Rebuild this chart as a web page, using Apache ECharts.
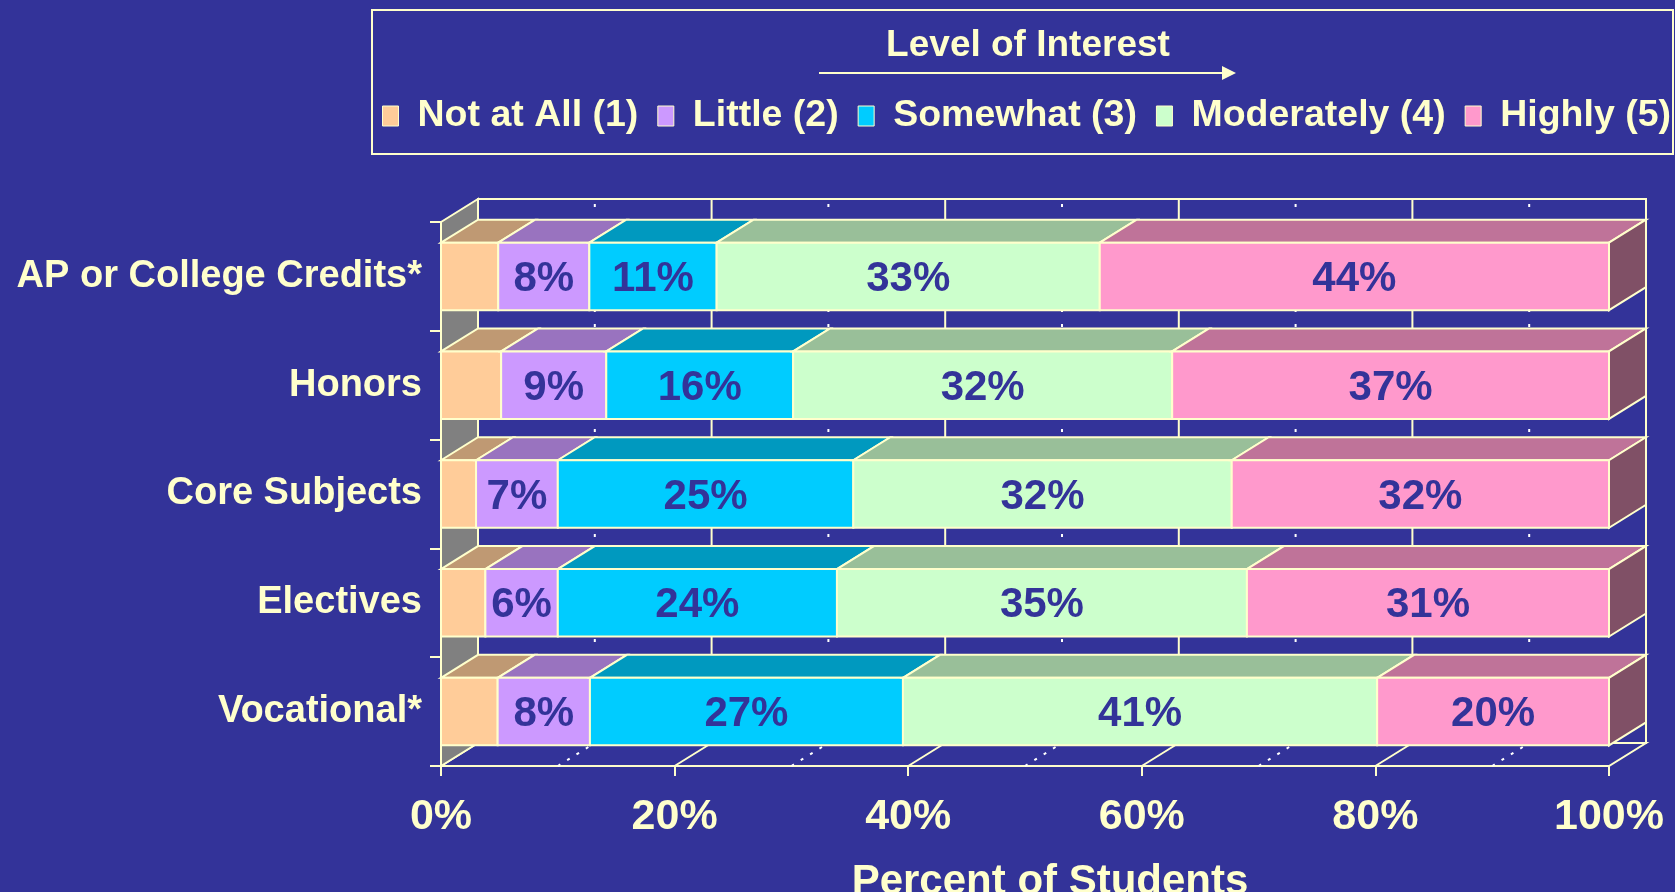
<!DOCTYPE html>
<html>
<head>
<meta charset="utf-8">
<script src="https://cdn.jsdelivr.net/npm/echarts@6/dist/echarts.min.js"></script>
<style>
html, body { margin: 0; padding: 0; background: #333399; }
#chart { width: 1675px; height: 892px; }
</style>
</head>
<body>
<div id="chart"></div>
<script>
// data (percent of students)
var categories = ['AP or College Credits*', 'Honors', 'Core Subjects', 'Electives', 'Vocational*'];
var seriesNames = ['Not at All (1)', 'Little (2)', 'Somewhat (3)', 'Moderately (4)', 'Highly (5)'];
var notAtAll   = [4.9, 5.15, 3.0, 3.8, 4.85];
var little     = [7.8, 9.0, 7.0, 6.2, 7.9];
var somewhat   = [10.9, 16.0, 25.3, 23.9, 26.8];
var moderately = [32.8, 32.45, 32.4, 35.1, 40.6];
var highly     = [43.6, 37.4, 32.3, 31.0, 19.85];
var xTicks = [0, 20, 40, 60, 80, 100];
var minorTicks = [10, 30, 50, 70, 90];

var values = [notAtAll, little, somewhat, moderately, highly];

var FRONT = ['#FFCC99', '#CC99FF', '#00CCFF', '#CCFFCC', '#FF99CC'];
var TOP = ['#BF9973', '#9973BF', '#0099BF', '#99BF99', '#BF7399'];
var SIDE = '#805066';
var CREAM = '#FFFFCC';
var BG = '#333399';
var DX = 37, DY = -23;   // 3d depth offset
var FONT = '"Liberation Sans", Arial, sans-serif';

function stackedData(k) {
  return categories.map(function (c, i) {
    var start = 0;
    for (var j = 0; j < k; j++) start += values[j][i];
    return [start, start + values[k][i], i];
  });
}

function barRenderer(k) {
  return function (params, api) {
    var s = api.value(0), e = api.value(1), cat = api.value(2);
    var p0 = api.coord([s, cat]);
    var p1 = api.coord([e, cat]);
    var h = api.size([0, 1])[1] * 0.62;
    var x0 = p0[0], x1 = p1[0];
    var yT = p0[1] - h / 2, yB = p0[1] + h / 2;
    var children = [
      {
        type: 'polygon',
        shape: { points: [[x0, yT], [x0 + DX, yT + DY], [x1 + DX, yT + DY], [x1, yT]] },
        style: { fill: TOP[k], stroke: CREAM, lineWidth: 2 }
      },
      {
        type: 'rect',
        shape: { x: x0, y: yT, width: x1 - x0, height: h },
        style: { fill: FRONT[k], stroke: CREAM, lineWidth: 2 }
      }
    ];
    if (k === values.length - 1) {
      children.push({
        type: 'polygon',
        shape: { points: [[x1, yT], [x1 + DX, yT + DY], [x1 + DX, yB + DY], [x1, yB]] },
        style: { fill: SIDE, stroke: CREAM, lineWidth: 2 }
      });
    }
    if (k > 0) {
      children.push({
        type: 'text',
        x: (x0 + x1) / 2,
        y: (yT + yB) / 2 + 3,
        style: {
          text: Math.round(e - s) + '%',
          fill: BG,
          font: 'bold 42px ' + FONT,
          align: 'center', verticalAlign: 'middle',
          textAlign: 'center', textVerticalAlign: 'middle'
        }
      });
    }
    return { type: 'group', children: children };
  };
}

// walls, floor and gridlines of the 3d box
function renderFrame(params, api) {
  var cs = params.coordSys;
  var L = cs.x, R = cs.x + cs.width, T = cs.y, B = cs.y + cs.height;
  var children = [
    { type: 'rect', shape: { x: L + DX, y: T + DY, width: cs.width, height: cs.height },
      style: { fill: BG, stroke: CREAM, lineWidth: 2 } },
    { type: 'polygon', shape: { points: [[L, B], [L + DX, B + DY], [R + DX, B + DY], [R, B]] },
      style: { fill: BG, stroke: CREAM, lineWidth: 2 } },
    { type: 'polygon', shape: { points: [[L, T], [L + DX, T + DY], [L + DX, B + DY], [L, B]] },
      style: { fill: '#808080', stroke: CREAM, lineWidth: 2 } }
  ];
  xTicks.slice(1, -1).forEach(function (v) {
    var x = api.coord([v, 0])[0];
    children.push({ type: 'line', shape: { x1: x + DX, y1: T + DY, x2: x + DX, y2: B + DY },
      style: { stroke: CREAM, lineWidth: 2 } });
    children.push({ type: 'line', shape: { x1: x, y1: B, x2: x + DX, y2: B + DY },
      style: { stroke: CREAM, lineWidth: 2 } });
  });
  minorTicks.forEach(function (v) {
    var x = api.coord([v, 0])[0];
    children.push({ type: 'line', shape: { x1: x + DX, y1: T + DY + 5, x2: x + DX, y2: B + DY },
      style: { stroke: '#FFFFFF', lineWidth: 2, lineDash: [3, 12] } });
    children.push({ type: 'line', shape: { x1: x, y1: B, x2: x + DX, y2: B + DY },
      style: { stroke: '#FFFFFF', lineWidth: 2, lineDash: [3, 8] } });
  });
  return { type: 'group', children: children };
}

var series = [{
  type: 'custom',
  name: 'frame',
  silent: true,
  z: 1,
  renderItem: renderFrame,
  encode: { x: 0, y: 1 },
  data: [[0, 0]]
}];
seriesNames.forEach(function (name, k) {
  series.push({
    type: 'custom',
    name: name,
    z: 2,
    itemStyle: { color: FRONT[k] },
    renderItem: barRenderer(k),
    encode: { x: [0, 1], y: 2 },
    data: stackedData(k)
  });
});

var chart = echarts.init(document.getElementById('chart'));
chart.setOption({
  backgroundColor: BG,
  animation: false,
  grid: { left: 441, right: 66, top: 222, bottom: 126, containLabel: false, outerBoundsMode: 'none' },
  legend: {
    data: seriesNames,
    left: 377,
    top: 92,
    width: 1320,
    icon: 'rect',
    itemWidth: 16,
    itemHeight: 20,
    itemGap: 19,
    selectedMode: false,
    itemStyle: { borderColor: CREAM, borderWidth: 1 },
    formatter: function (n) { return '{g|}' + n; },
    textStyle: {
      color: CREAM, fontSize: 37.5, fontWeight: 'bold', fontFamily: FONT,
      rich: { g: { width: 14 } }
    }
  },
  graphic: [
    { type: 'rect', shape: { x: 372, y: 10, width: 1301, height: 144 },
      style: { fill: 'none', stroke: CREAM, lineWidth: 2 } },
    { type: 'text', x: 1028, y: 46,
      style: { text: 'Level of Interest', fill: CREAM, font: 'bold 37px ' + FONT,
        align: 'center', verticalAlign: 'middle', textAlign: 'center', textVerticalAlign: 'middle' } },
    { type: 'line', shape: { x1: 819, y1: 73, x2: 1226, y2: 73 },
      style: { stroke: CREAM, lineWidth: 2 } },
    { type: 'polygon', shape: { points: [[1222, 66], [1236, 73], [1222, 80]] },
      style: { fill: CREAM } }
  ],
  xAxis: {
    type: 'value',
    min: xTicks[0],
    max: xTicks[xTicks.length - 1],
    interval: 20,
    axisLine: { show: true, lineStyle: { color: CREAM, width: 2 } },
    axisTick: { show: true, length: 10, lineStyle: { color: CREAM, width: 2 } },
    axisLabel: { color: CREAM, fontSize: 43, fontWeight: 'bold', fontFamily: FONT, margin: 30, formatter: '{value}%' },
    splitLine: { show: false },
    name: 'Percent of Students',
    nameLocation: 'middle',
    nameGap: 95,
    nameTextStyle: { color: CREAM, fontSize: 42, fontWeight: 'bold', fontFamily: FONT, padding: [0, 0, 0, 50] }
  },
  yAxis: {
    type: 'category',
    data: categories,
    inverse: true,
    axisLine: { show: true, lineStyle: { color: CREAM, width: 2 } },
    axisTick: { show: true, length: 11, lineStyle: { color: CREAM, width: 2 } },
    axisLabel: { color: CREAM, fontSize: 38, fontWeight: 'bold', fontFamily: FONT, margin: 19, padding: [8, 0, 0, 0] }
  },
  series: series
});
</script>
</body>
</html>
